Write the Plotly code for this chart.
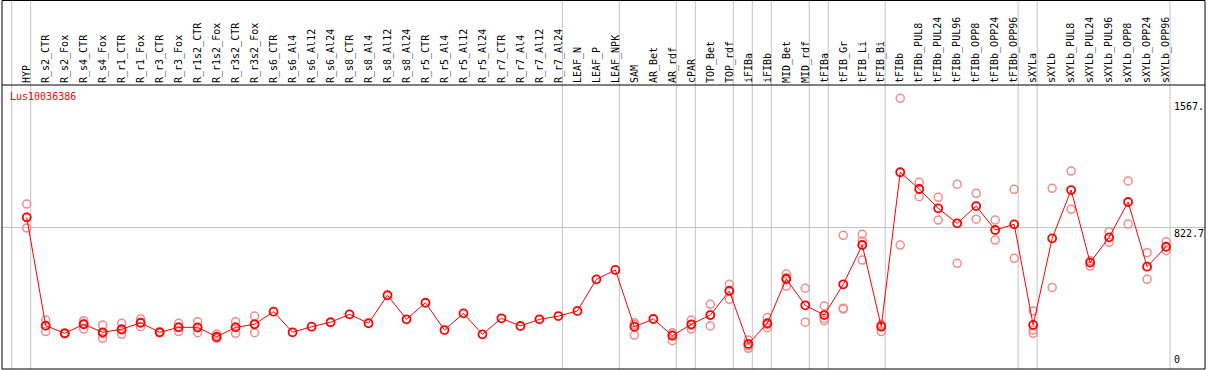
import plotly.graph_objects as go

categories = ["HYP", "R_s2_CTR", "R_s2_Fox", "R_s4_CTR", "R_s4_Fox", "R_r1_CTR", "R_r1_Fox",
              "R_r3_CTR", "R_r3_Fox", "R_r1s2_CTR", "R_r1s2_Fox", "R_r3s2_CTR", "R_r3s2_Fox",
              "R_s6_CTR", "R_s6_Al4", "R_s6_Al12", "R_s6_Al24", "R_s8_CTR", "R_s8_Al4",
              "R_s8_Al12", "R_s8_Al24", "R_r5_CTR", "R_r5_Al4", "R_r5_Al12", "R_r5_Al24",
              "R_r7_CTR", "R_r7_Al4", "R_r7_Al12", "R_r7_Al24", "LEAF_N", "LEAF_P", "LEAF_NPK",
              "SAM", "AR_Bet", "AR_rdf", "cPAR", "TOP_Bet", "TOP_rdf", "iFIBa", "iFIBb",
              "MID_Bet", "MID_rdf", "tFIBa", "tFIB_Gr", "tFIB_Li", "tFIB_Bi", "tFIBb",
              "tFIBb_PUL8", "tFIBb_PUL24", "tFIBb_PUL96", "tFIBb_OPP8", "tFIBb_OPP24",
              "tFIBb_OPP96", "sXYLa", "sXYLb", "sXYLb_PUL8", "sXYLb_PUL24", "sXYLb_PUL96",
              "sXYLb_OPP8", "sXYLb_OPP24", "sXYLb_OPP96"]

mean_vals = [882, 248, 203, 256, 209, 227, 265, 209, 238, 238, 183, 238, 256,
             330, 209, 242, 268, 314, 262, 426, 285, 382, 222, 320, 197,
             291, 246, 285, 304, 334, 519, 574,
             242, 287, 189, 256, 310, 451, 141, 262, 521, 367, 310, 490, 720, 242,
             1146, 1048, 935, 847, 948, 808, 841,
             252, 759, 1042, 617, 765, 972, 593, 710]

rep_a = [960, 281, 205, 277, 252, 262, 287, 212, 262, 271, 199, 271, 304,
         None, None, None, None, None, None, None, None, None, None, None, None,
         None, None, None, None, None, None, None,
         265, None, 207, 281, 373, 490, 164, 295, 550, 467, 363, 777, 783, 256,
         1579, 1087, 999, 1076, 1023, 866, 1046,
         334, 1052, 1153, 628, 798, 1095, 675, 739]

rep_b = [819, 213, 200, 228, 174, 197, 242, 206, 213, 207, 174, 203, 207,
         None, None, None, None, None, None, None, None, None, None, None, None,
         None, None, None, None, None, None, None,
         193, None, 160, 228, 246, 402, 115, 236, 480, 268, 277, 350, 632, 213,
         720, 1003, 866, 613, 871, 749, 642,
         203, 472, 929, 597, 736, 843, 519, 687]

rep_c = [882, 248, 203, 262, 200, 222, 266, 209, 240, 236, 176, 240, 257,
         None, None, None, None, None, None, None, None, None, None, None, None,
         None, None, None, None, None, None, None,
         255, None, 195, 250, 310, 455, 130, 255, 530, None, 290, 345, 744, 250,
         None, None, None, None, None, None, None,
         222, None, None, None, None, None, None, None]

group_breaks = [-1, 0, 28, 31, 34, 35, 37, 38, 39, 41, 42, 45, 52, 53, 60]
y_ticks = [0, 822.7, 1567]
y_tick_text = ["0", "822.7", "1567."]
gene_id = "Lus10036386"

xs = list(range(len(categories)))
XMIN, XMAX = -1.3007, 62.049
YMIN, YMAX = -5.85, 1656.9
PLOT_H = 284
TOP_M = 85

mono = "DejaVu Sans Mono"
fig = go.Figure()

rx, ry = [], []
for reps in (rep_a, rep_b, rep_c):
    for i, v in enumerate(reps):
        if v is not None:
            rx.append(i)
            ry.append(v)

fig.add_trace(go.Scatter(x=rx, y=ry, mode="markers", hoverinfo="skip",
                         marker=dict(symbol="circle-open", size=8, color="#f08c8c",
                                     line=dict(width=1.5, color="#f08c8c"))))
fig.add_trace(go.Scatter(x=xs, y=mean_vals, mode="lines+markers",
                         line=dict(color="#ff0000", width=1),
                         marker=dict(symbol="circle-open", size=8, color="#ff0000",
                                     line=dict(width=1.8, color="#ff0000"))))

def xp(v):
    return (v - XMIN) / (XMAX - XMIN)

top_paper = 1 + (TOP_M - 0.5) / PLOT_H
shapes = []
for b in group_breaks:
    shapes.append(dict(type="line", xref="paper", yref="paper",
                       x0=xp(b + 0.21), x1=xp(b + 0.21), y0=0, y1=top_paper,
                       line=dict(color="#c4c4c4", width=1), layer="below"))
shapes.append(dict(type="rect", xref="paper", yref="paper", x0=0, x1=1, y0=0, y1=top_paper,
                   line=dict(color="black", width=1)))
shapes.append(dict(type="line", xref="paper", yref="paper", x0=0, x1=1, y0=1, y1=1,
                   line=dict(color="black", width=1)))

annotations = []
for v, t in zip(y_ticks, y_tick_text):
    annotations.append(dict(x=(1173 - 2) / 1203, xref="paper", y=v, yref="y", text=t,
                            showarrow=False, xanchor="left",
                            yanchor="bottom" if v == 0 else "top",
                            yshift=2 if v == 0 else 0, borderpad=0,
                            font=dict(family=mono, size=10, color="black")))
annotations.append(dict(x=(9 - 2) / 1203, xref="paper", y=1 - 5 / PLOT_H, yref="paper",
                        text=gene_id, showarrow=False, xanchor="left", yanchor="top",
                        borderpad=0, font=dict(family=mono, size=10, color="#ff0000")))

fig.update_layout(
    width=1209, height=370,
    margin=dict(l=2, r=4, t=TOP_M, b=1, pad=0),
    paper_bgcolor="white", plot_bgcolor="white",
    showlegend=False,
    shapes=shapes, annotations=annotations,
    xaxis=dict(range=[XMIN, XMAX], side="top", tickmode="array", tickvals=xs,
               ticktext=categories, tickangle=-90, showgrid=False, zeroline=False,
               showline=False, ticks="", automargin=False, ticklabelstandoff=1,
               tickfont=dict(family=mono, size=10, color="black")),
    yaxis=dict(range=[YMIN, YMAX], tickmode="array", tickvals=[822.7], showticklabels=False,
               showgrid=True, gridcolor="#c4c4c4", gridwidth=1, zeroline=False,
               showline=False, ticks="", automargin=False),
)

fig.write_html("out.html", config={"displayModeBar": False},
               post_script="document.body.style.margin='0';document.body.style.overflow='hidden';")
